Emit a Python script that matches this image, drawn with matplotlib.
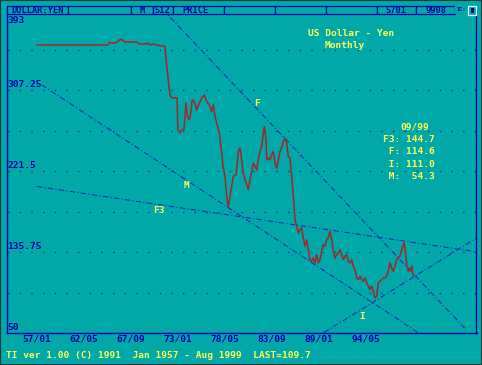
import matplotlib
matplotlib.use('Agg')
import matplotlib.pyplot as plt
from matplotlib.patches import Rectangle

# Monthly USD/JPY, Jan 1957 - Aug 1999 (decimal year, price)
years = [1957.00, 1965.06, 1965.20, 1965.90, 1966.50, 1967.00, 1968.35, 1968.60, 1969.40, 1969.60,
         1969.80, 1970.20, 1971.00, 1971.50, 1971.75, 1971.90, 1972.10, 1972.30, 1972.90, 1973.00,
         1973.24, 1973.43, 1973.69, 1973.92, 1974.07, 1974.29, 1974.45, 1974.63, 1974.86, 1975.13,
         1975.43, 1975.70, 1975.99, 1976.27, 1976.56, 1976.83, 1977.02, 1977.21, 1977.40, 1977.58,
         1977.70, 1977.86, 1977.97, 1978.15, 1978.34, 1978.54, 1978.72, 1978.91, 1979.10, 1979.29,
         1979.59, 1979.86, 1980.05, 1980.24, 1980.42, 1980.62, 1980.88, 1980.99, 1981.18, 1981.38,
         1981.56, 1981.75, 1981.94, 1982.12, 1982.32, 1982.51, 1982.69, 1982.81, 1983.00, 1983.08,
         1983.26, 1983.45, 1983.65, 1983.83, 1984.02, 1984.21, 1984.40, 1984.59, 1984.78, 1984.96,
         1985.16, 1985.35, 1985.53, 1985.72, 1985.92, 1986.10, 1986.29, 1986.48, 1986.67, 1986.86,
         1987.05, 1987.23, 1987.43, 1987.62, 1987.80, 1987.99, 1988.19, 1988.37, 1988.56, 1988.75,
         1988.94, 1989.13, 1989.32, 1989.50, 1989.70, 1989.89, 1990.07, 1990.26, 1990.46, 1990.64,
         1990.83, 1991.03, 1991.21, 1991.40, 1991.59, 1991.78, 1991.97, 1992.16, 1992.35, 1992.54,
         1992.73, 1992.91, 1993.10, 1993.30, 1993.48, 1993.67, 1993.86, 1994.05, 1994.24, 1994.43,
         1994.61, 1994.81, 1995.00, 1995.18, 1995.37, 1995.57, 1995.68, 1995.75, 1995.94, 1996.13,
         1996.32, 1996.51, 1996.70, 1996.88, 1997.08, 1997.27, 1997.45, 1997.65, 1997.84, 1998.02,
         1998.21, 1998.41, 1998.59, 1998.70, 1998.82, 1998.97, 1999.15, 1999.35, 1999.46, 1999.57,
         1999.65, 1999.72]
prices = [355.4, 355.4, 357.9, 357.5, 361.5, 358.6, 358.6, 356.5, 356.5, 357.5,
          355.4, 356.5, 354.4, 354.4, 332.1, 318.4, 302.5, 299.3, 299.3, 265.4,
          262.0, 265.4, 266.2, 293.7, 279.5, 276.0, 283.1, 297.2, 295.4, 286.6,
          293.7, 299.0, 302.5, 295.4, 291.9, 284.8, 291.9, 279.5, 272.5, 265.4,
          261.9, 249.6, 240.8, 224.9, 216.0, 194.8, 183.6, 194.8, 205.4, 216.0,
          217.8, 242.5, 246.1, 233.7, 219.6, 212.5, 205.4, 201.9, 212.5, 221.3,
          230.2, 226.6, 223.1, 233.7, 242.5, 247.8, 261.9, 268.9, 254.9, 233.7,
          235.5, 233.7, 239.0, 242.5, 230.2, 224.9, 233.7, 242.5, 246.1, 253.1,
          256.7, 251.4, 237.2, 235.5, 216.0, 194.8, 170.2, 163.1, 156.1, 159.6,
          161.4, 150.8, 141.9, 149.0, 138.4, 127.8, 126.0, 129.6, 124.3, 133.1,
          124.3, 127.8, 136.6, 143.7, 141.9, 149.0, 150.8, 157.8, 149.0, 136.6,
          129.6, 133.1, 134.9, 138.4, 133.1, 127.8, 131.3, 133.1, 126.0, 124.3,
          127.8, 120.7, 117.2, 108.4, 106.6, 110.1, 106.6, 104.8, 108.4, 103.2,
          99.6, 96.1, 99.6, 94.3, 87.3, 89.0, 97.9, 103.2, 104.8, 106.6,
          108.4, 108.4, 110.1, 115.4, 124.3, 119.0, 115.4, 120.7, 127.8, 129.6,
          131.3, 138.4, 143.7, 145.5, 134.9, 122.5, 115.4, 119.0, 117.2, 120.7,
          113.7, 110.9]

# trend lines: name -> two anchor points (year, price)
trend_names = ['F', 'M', 'F3', 'I']
trend_x = [(1971.27, 2005.93), (1957.53, 2000.26), (1956.97, 2006.73), (1989.58, 2006.84)]
trend_y = [(393.0, 51.6), (313.1, 50.5), (205.4, 136.3), (50.5, 150.3)]
# where the line names sit
name_x = [1981.98, 1973.92, 1970.85, 1993.90]
name_y = [293.0, 206.2, 179.7, 67.5]

# values of each line at 09/99
box_names = ['F3', 'F', 'I', 'M']
box_values = [144.7, 114.6, 111.0, 54.3]

y_labels = ['393', '307.25', '221.5', '135.75', '50']
y_label_vals = [393, 307.25, 221.5, 135.75, 50]
x_tick_labels = ['57/01', '62/05', '67/09', '73/01', '78/05', '83/09', '89/01', '94/05']
x_tick_vals = [1957.0, 1962.33, 1967.67, 1973.0, 1978.33, 1983.67, 1989.0, 1994.33]

header_cells = [(6.7, 68), (68, 131), (131, 152.7), (152.7, 173), (173, 224), (224, 275),
                (275, 325.7), (325.7, 376.7), (376.7, 416), (416, 455)]

BG = '#00a8a8'
BLUE = '#0000aa'
LINE_BLUE = '#1830b0'
YELLOW = '#ffff55'
RED = '#a02828'
W, H = 482, 365
FONT = dict(family='DejaVu Sans Mono', fontweight='bold', fontsize=6.8)
HFONT = dict(family='DejaVu Sans Mono', fontweight='bold', fontsize=6.2)


def px(x, y):
    return x / W, 1 - y / H


fig = plt.figure(figsize=(W / 100, H / 100), dpi=100, facecolor=BG)
left, top, right, bottom = 6.5, 9.5, 476.5, 333
ax = fig.add_axes([left / W, 1 - bottom / H, (right - left) / W, (bottom - top) / H])
ax.set_facecolor(BG)
ax.set_xlim(1957 + (left - 37) / 8.808, 1957 + (right - 37) / 8.808)
ax.set_ylim(50, 393)

# dotted horizontal grid
step = (393 - 50) / 8
for k in range(1, 8):
    ax.axhline(50 + k * step, color=LINE_BLUE, lw=1.0, linestyle=(8, (1, 7.4)), zorder=1)

# trend lines
for (x0, x1), (y0, y1) in zip(trend_x, trend_y):
    ax.plot([x0, x1], [y0, y1], color=LINE_BLUE, lw=0.8, linestyle=(0, (5, 2, 1, 2)), zorder=2)
for name, nx, ny in zip(trend_names, name_x, name_y):
    ax.text(nx, ny, name, color=YELLOW, ha='center', va='center', zorder=4, **FONT)

ax.plot(years, prices, color=RED, lw=1.1, zorder=3)

for s in ['left', 'bottom', 'right']:
    ax.spines[s].set_color(BLUE)
    ax.spines[s].set_linewidth(1.0)
ax.spines['top'].set_visible(False)
ax.set_xticks([])
ax.set_yticks([])

# y value labels inside the plot
for lab, v in zip(y_labels, y_label_vals):
    if v == 393:
        ax.annotate(lab, xy=(0, v), xycoords=('axes fraction', 'data'), xytext=(1, -6),
                    textcoords='offset pixels', color=BLUE, ha='left', va='top', **FONT)
    else:
        ax.annotate(lab, xy=(0, v), xycoords=('axes fraction', 'data'), xytext=(1, 1),
                    textcoords='offset pixels', color=BLUE, ha='left', va='bottom', **FONT)

# x labels under the axis
for lab, v in zip(x_tick_labels, x_tick_vals):
    ax.annotate(lab, xy=(v, 0), xycoords=('data', 'axes fraction'), xytext=(0, -1),
                textcoords='offset pixels', color=BLUE, ha='center', va='top', **FONT)

# header bar
for x0, x1 in header_cells:
    fig.add_artist(Rectangle(px(x0, 14), (x1 - x0) / W, 8 / H, facecolor=BG,
                             edgecolor=BLUE, lw=0.9, zorder=5))
hy = px(0, 10.2)[1]
fig.text(37.3 / W, hy, 'DOLLAR:YEN', color=BLUE, ha='center', va='center', zorder=6, **HFONT)
fig.text(141.8 / W, hy, 'M', color=BLUE, ha='center', va='center', zorder=6, **HFONT)
fig.text(162.8 / W, hy, '512', color=BLUE, ha='center', va='center', zorder=6, **HFONT)
fig.text(182 / W, hy, 'PRICE', color=BLUE, ha='left', va='center', zorder=6, **HFONT)
fig.text(396 / W, hy, '5701', color=BLUE, ha='center', va='center', zorder=6, **HFONT)
fig.text(435.5 / W, hy, '9908', color=BLUE, ha='center', va='center', zorder=6, **HFONT)
fig.add_artist(Rectangle(px(455, 14), 12.5 / W, 8 / H, facecolor=BG, edgecolor='none', zorder=5))
fig.text(461 / W, px(0, 9.5)[1], 'IC:', color=BLUE, ha='center', va='center', zorder=6,
         family='DejaVu Sans Mono', fontweight='bold', fontsize=3.8)
fig.add_artist(Rectangle(px(468, 15), 8 / W, 9.5 / H, facecolor=BG, edgecolor='#e8ffff',
                         lw=0.9, zorder=6))
fig.add_artist(Rectangle(px(470.5, 12.5), 3.5 / W, 4.5 / H, facecolor=BLUE, edgecolor='none',
                         zorder=7))

# title and value box
fig.text(*px(351, 33), 'US Dollar - Yen', color=YELLOW, ha='center', va='center', **FONT)
fig.text(*px(345, 45.7), 'Monthly', color=YELLOW, ha='center', va='center', **FONT)
fig.text(*px(415, 127), '09/99', color=YELLOW, ha='center', va='center', **FONT)
for i, (n, v) in enumerate(zip(box_names, box_values)):
    fig.text(*px(383, 139.5 + 12.3 * i), f'{n:>2}: {v:5.1f}', color=YELLOW,
             ha='left', va='center', **FONT)

# footer
fig.text(*px(6, 355), 'TI ver 1.00 (C) 1991  Jan 1957 - Aug 1999  LAST=109.7',
         color=YELLOW, ha='left', va='center', **FONT)

fig.add_artist(Rectangle((0, 0), 1, 1, facecolor='none', edgecolor='#203838', lw=1.5,
                         transform=fig.transFigure, zorder=10))

fig.savefig('out.png', dpi=100, facecolor=BG)
